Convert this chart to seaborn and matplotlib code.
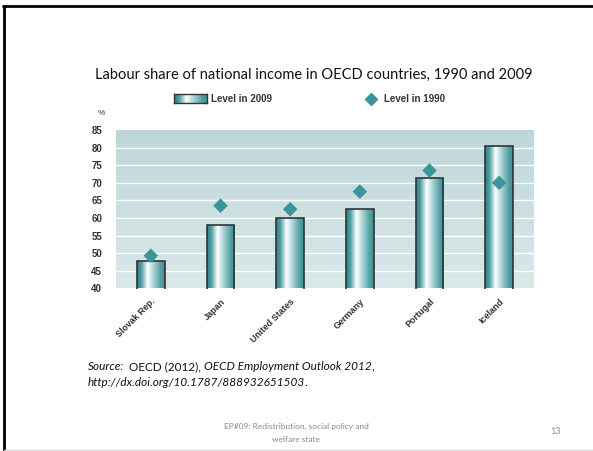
import numpy as np
import pandas as pd
import matplotlib
matplotlib.use("Agg")
import matplotlib.pyplot as plt
from matplotlib.colors import LinearSegmentedColormap
from matplotlib.lines import Line2D
import seaborn as sns

# Data
countries = ["Slovak Rep.", "Japan", "United States", "Germany", "Portugal", "Iceland"]
level_2009 = [47.8, 58.0, 60.0, 62.5, 71.5, 80.5]
level_1990 = [49.3, 63.5, 62.5, 67.5, 73.5, 70.0]
yticks = [40, 45, 50, 55, 60, 65, 70, 75, 80, 85]

df = pd.DataFrame({"country": countries, "y2009": level_2009, "y1990": level_1990})

sns.set_style("white")
plt.rcParams["font.family"] = ["Liberation Sans", "DejaVu Sans"]

W, H = 593, 451
fig = plt.figure(figsize=(W / 100, H / 100), dpi=100)

def fx(px):
    return px / W

def fy(py):
    return 1 - py / H

ax = fig.add_axes([fx(116), fy(288.5), fx(534) - fx(116), fy(130) - fy(288.5)])
ylo, yhi = yticks[0], yticks[-1]

# Vertical background gradient
bg = LinearSegmentedColormap.from_list("bg", ["#dbe8e9", "#bcd7da"])
ax.imshow(np.linspace(0, 1, 256).reshape(-1, 1), cmap=bg, origin="lower",
          extent=[-0.5, 5.5, ylo, yhi], aspect="auto", zorder=0)
for t in yticks[1:-1]:
    ax.axhline(t, color="white", lw=1.0, zorder=1)

# Bars
sns.barplot(data=df, x="country", y="y2009", width=0.4, color="#4a9ca0",
            edgecolor="#333333", linewidth=1.2, ax=ax, zorder=2)

bar_cmap = LinearSegmentedColormap.from_list(
    "bar", [(0.0, "#2a8287"), (0.15, "#4a9da1"), (0.38, "#ffffff"),
            (0.62, "#a0cdcf"), (0.85, "#55a1a4"), (1.0, "#3c8f94")])
grad = np.linspace(0, 1, 256).reshape(1, -1)
for p in ax.patches:
    x0, y0 = p.get_x(), p.get_y()
    w, h = p.get_width(), p.get_height()
    im = ax.imshow(grad, cmap=bar_cmap, extent=[x0, x0 + w, max(y0, ylo), y0 + h],
                   aspect="auto", zorder=2.5)
    im.set_clip_path(p)
    p.set_facecolor("none")
    p.set_zorder(3)

# 1990 diamonds
sns.scatterplot(data=df, x="country", y="y1990", marker="D", s=55,
                color="#3a9499", edgecolor="none", ax=ax, zorder=4)

ax.set_xlim(-0.5, 5.5)
ax.set_ylim(ylo, yhi)
ax.set_yticks(yticks)
ax.set_yticklabels([str(t) for t in yticks], fontsize=7, fontweight="bold", color="#333333")
ax.set_xlabel("")
ax.set_ylabel("")
for s in ax.spines.values():
    s.set_visible(False)
ax.tick_params(axis="y", length=0, pad=10)
ax.set_xticks(range(len(countries)))
ax.set_xticklabels(countries, rotation=45, ha="right", rotation_mode="anchor",
                   fontsize=6.5, fontweight="bold", color="#333333")
ax.tick_params(axis="x", length=0, pad=6)
ax.set_xticks(np.arange(0.5, 5.0, 1.0), minor=True)
ax.tick_params(axis="x", which="minor", length=4, width=1, color="#222222")
ax.grid(False)

# Title
fig.text(fx(314), fy(75), "Labour share of national income in OECD countries, 1990 and 2009",
         ha="center", va="center", fontsize=10.5, family="Lato", color="#111111")

# Legend (drawn by hand to reproduce gradient swatch)
lax = fig.add_axes([fx(174), fy(103), fx(207) - fx(174), fy(94) - fy(103)])
lax.imshow(grad, cmap=bar_cmap, aspect="auto", extent=[0, 1, 0, 1])
lax.set_xticks([])
lax.set_yticks([])
for s in lax.spines.values():
    s.set_color("#333333")
    s.set_linewidth(1.0)
fig.text(fx(211), fy(99), "Level in 2009", ha="left", va="center", fontsize=7,
         fontweight="bold", color="#333333")
fig.add_artist(Line2D([fx(371)], [fy(99)], marker="D", markersize=6, color="#3a9499",
                      linestyle="none", transform=fig.transFigure))
fig.text(fx(384), fy(99), "Level in 1990", ha="left", va="center", fontsize=7,
         fontweight="bold", color="#333333")
fig.text(fx(101), fy(114), "%", ha="center", va="center", fontsize=6, color="#333333")

# Source note with mixed styles
fig.canvas.draw()
renderer = fig.canvas.get_renderer()

def chain(x_px, y_px, parts):
    x = x_px
    for txt, style in parts:
        t = fig.text(fx(x), fy(y_px), txt, ha="left", va="center", fontsize=8.5,
                     family="Lato", style=style, color="#111111")
        bb = t.get_window_extent(renderer=renderer)
        x += bb.width - (1 if style == "italic" else 0)

chain(88, 367, [("Source:", "italic"), ("  OECD (2012), ", "normal"),
                ("OECD Employment Outlook 2012", "italic"), (",", "normal")])
chain(88, 383, [("http://dx.doi.org/10.1787/888932651503", "italic"), (".", "normal")])

# Footer
fig.text(fx(296), fy(426), "EP#09: Redistribution, social policy and", ha="center", va="center",
         fontsize=6, family="Lato", color="#8a8a8a")
fig.text(fx(296), fy(439), "welfare state", ha="center", va="center",
         fontsize=6, family="Lato", color="#8a8a8a")
fig.text(fx(556), fy(431), "13", ha="center", va="center", fontsize=6.5, family="Lato", color="#8a8a8a")

# Slide frame
fig.add_artist(Line2D([fx(4), fx(4)], [fy(6), fy(451)], color="black", lw=2, transform=fig.transFigure))
fig.add_artist(Line2D([fx(3), fx(593)], [fy(6), fy(6)], color="black", lw=2, transform=fig.transFigure))
fig.add_artist(Line2D([fx(4), fx(593)], [fy(450), fy(450)], color="#d9d9d9", lw=1, transform=fig.transFigure))

fig.savefig("out.png", dpi=100)
